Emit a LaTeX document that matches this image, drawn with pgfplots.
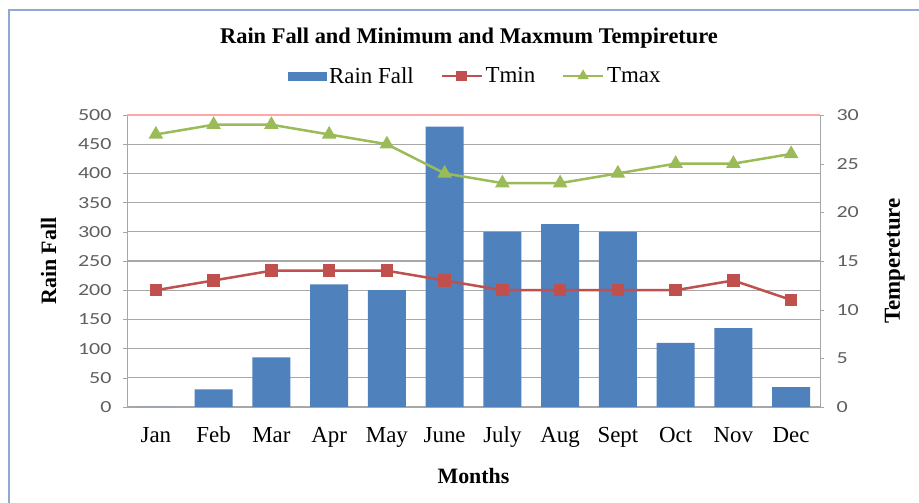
\documentclass[border=0pt]{standalone}
\usepackage{pgfplots}
\pgfplotsset{compat=1.18}
\usepackage{fontspec}
\setmainfont{Liberation Serif}
\newfontfamily\tickfont{Carlito}[FakeStretch=1.3]
\definecolor{barblue}{HTML}{4F81BD}
\definecolor{tminred}{HTML}{C0504D}
\definecolor{tmaxgreen}{HTML}{9BBB59}
\definecolor{frameblue}{HTML}{8FA8D4}
\definecolor{gridgray}{HTML}{A8A8A8}
\definecolor{ticklab}{HTML}{606060}
\begin{document}
\begin{tikzpicture}[x=1bp,y=1bp]
\useasboundingbox (0,0) rectangle (919,503);
\draw[line width=2.5bp, draw=frameblue, fill=white] (9,-10) rectangle (935,493);
\node[font=\fontsize{22.5}{25}\selectfont\bfseries] at (469,465) {Rain Fall and Minimum and Maxmum Tempireture};
\begin{axis}[
  at={(127bp,96bp)}, anchor=south west, scale only axis,
  width=693bp, height=292bp,
  xmin=-0.5, xmax=11.5, ymin=0, ymax=500,
  /pgf/number format/assume math mode=true,
  axis x line*=bottom, axis y line*=left,
  axis line style={draw=gray!70, line width=0.8bp},
  xtick={0,...,11},
  xticklabels={Jan,Feb,Mar,Apr,May,June,July,Aug,Sept,Oct,Nov,Dec},
  major x tick style={draw=none},
  extra x ticks={-0.5,0.5,...,11.5},
  extra x tick labels={},
  extra x tick style={grid=none, major tick length=4bp, tick style={draw=orange!40!gray}},
  xticklabel style={font=\fontsize{23}{26}\selectfont, text height=15bp, text depth=5bp, yshift=-13bp},
  ytick={0,50,...,450},
  extra y ticks={500},
  extra y tick style={grid style={draw=red!35, line width=1.2bp}},
  ymajorgrids, grid style={draw=gridgray, line width=1.1bp},
  tick align=outside, major tick length=4bp,
  ytick style={draw=gray!70},
  yticklabel style={font=\tickfont\fontsize{17}{20}\selectfont, text=ticklab, xshift=-8bp},
  ylabel={\bfseries Rain Fall},
  ylabel style={font=\fontsize{22}{25}\selectfont, at={(axis description cs:-0.113,0.5)}, anchor=center},
  xlabel={\bfseries Months},
  xlabel style={font=\fontsize{22}{25}\selectfont, at={(axis description cs:0.5,-0.235)}, anchor=center},
]
\addplot[ybar, bar width=38bp, fill=barblue, draw=none] coordinates {
(0,0) (1,30) (2,85) (3,210) (4,200) (5,480) (6,300) (7,313) (8,300) (9,110) (10,135) (11,34)};
\end{axis}
\begin{axis}[
  at={(127bp,96bp)}, anchor=south west, scale only axis,
  width=693bp, height=292bp,
  xmin=-0.5, xmax=11.5, ymin=0, ymax=30,
  /pgf/number format/assume math mode=true,
  axis x line=none, axis y line*=right,
  axis line style={draw=gray!70, line width=0.8bp},
  ytick={0,5,...,30},
  tick align=outside, major tick length=4bp,
  ytick style={draw=gray!70},
  yticklabel style={font=\tickfont\fontsize{17}{20}\selectfont, text=ticklab, xshift=9bp},
  ylabel={\bfseries Tempereture},
  ylabel style={font=\fontsize{23}{26}\selectfont, at={(axis description cs:1.108,0.5)}, anchor=center, rotate=0},
  legend style={at={(axis description cs:0.503,1.134)}, anchor=center, legend columns=3, draw=none, fill=none,
    font=\fontsize{23}{26}\selectfont, inner sep=0pt,
    /tikz/every even column/.append style={column sep=24bp},
    nodes={inner xsep=3bp}},
]
\addlegendimage{legend image code/.code={\fill[barblue] (0bp,-4bp) rectangle (38bp,4bp);}}
\addlegendentry{Rain Fall}
\addplot[tminred, line width=2.5bp, mark=square*, mark size=5bp, mark options={solid},
  legend image code/.code={\draw[line width=1.8bp] (0bp,0bp) -- (40bp,0bp); \draw[mark size=4bp] plot[mark=square*] coordinates {(20bp,0bp)};}]
 coordinates {(0,12) (1,13) (2,14) (3,14) (4,14) (5,13) (6,12) (7,12) (8,12) (9,12) (10,13) (11,11)};
\addlegendentry{Tmin}
\addplot[tmaxgreen, line width=2.5bp, mark=triangle*, mark size=6bp, mark options={solid},
  legend image code/.code={\draw[line width=1.8bp] (0bp,0bp) -- (40bp,0bp); \draw[mark size=4bp] plot[mark=triangle*] coordinates {(20bp,0bp)};}]
 coordinates {(0,28) (1,29) (2,29) (3,28) (4,27) (5,24) (6,23) (7,23) (8,24) (9,25) (10,25) (11,26)};
\addlegendentry{Tmax}
\end{axis}
\end{tikzpicture}
\end{document}
